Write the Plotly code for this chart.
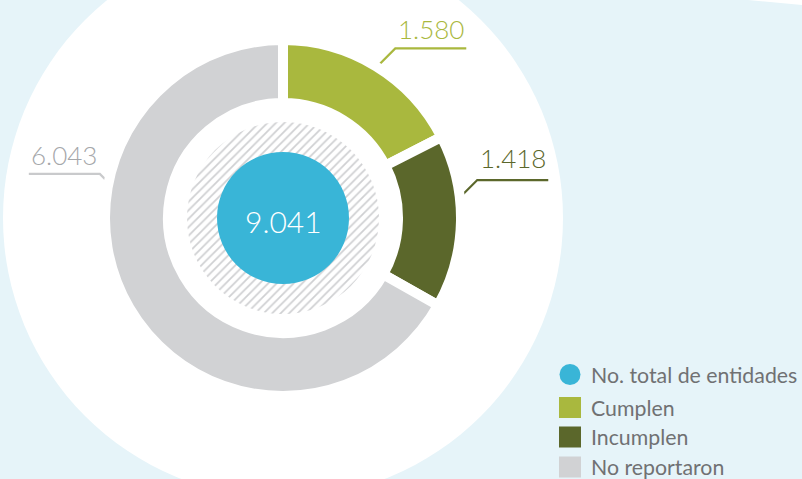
import math
import plotly.graph_objects as go

# ---------------- data ----------------
categories = ["Cumplen", "Incumplen", "No reportaron"]
values = [1580, 1418, 6043]
value_labels = ["1.580", "1.418", "6.043"]
total_label = "No. total de entidades"
total_text = "9.041"

# ---------------- style ----------------
colors = ["#a9b83e", "#5b672b", "#d1d2d4"]
label_colors = ["#a9b83e", "#5b672b", "#a5a7aa"]
leader_colors = ["#a9b83e", "#5b672b", "#c9cacc"]
leader_frac = [0.5, 0.386, 0.669]      # where on each slice the leader starts
leader_diag = [22, 22, 13]             # diagonal length of leader
leader_side = [1, 1, -1]               # +1 right, -1 left
leader_len = 71
label_gap = [1, 4, 1]
blue = "#39b5d7"
bg = "#e6f4f9"
legend_text = "#707173"

W, H = 802, 479
CX, CY = 283, 218
R_OUT, R_IN = 173, 120
GAP = 10
R_HATCH = 96
R_CORE = 66
R_PAGE = 280
NUM_FONT = dict(family="Lato", weight=300)


def dom(r):
    return dict(x=[(CX - r) / W, (CX + r) / W],
                y=[1 - (CY + r) / H, 1 - (CY - r) / H])


fig = go.Figure()

# leader lines (drawn under the donut)
total = sum(values)
cum = 0
annotations = []
for i, v in enumerate(values):
    a0 = cum / total * 360
    a1 = (cum + v) / total * 360
    cum += v
    ang = math.radians(a0 + leader_frac[i] * (a1 - a0))
    px = CX + R_OUT * math.sin(ang)
    py = CY - R_OUT * math.cos(ang)
    s = leader_side[i]
    d = leader_diag[i]
    sx, sy = px - s * 6, py + 6
    ex, ey = px + s * d, py - d
    hx = ex + s * leader_len
    fig.add_trace(go.Scatter(x=[sx, ex, hx], y=[sy, ey, ey], mode="lines",
                             line=dict(color=leader_colors[i], width=2.2),
                             hoverinfo="skip", showlegend=False))
    annotations.append(dict(x=(ex + hx) / 2, y=ey - label_gap[i], xref="x", yref="y",
                            text=value_labels[i], showarrow=False,
                            xanchor="center", yanchor="bottom",
                            font=dict(size=26, color=label_colors[i], **NUM_FONT)))

# donut
R_PIE = R_OUT + GAP / 2
fig.add_trace(go.Pie(values=values, labels=categories, sort=False,
                     direction="clockwise", rotation=0,
                     hole=(R_IN - GAP / 2) / R_PIE,
                     marker=dict(colors=colors, line=dict(color="white", width=GAP)),
                     textinfo="none", hoverinfo="skip", showlegend=False,
                     domain=dom(R_PIE)))

# hatched disc
fig.add_trace(go.Pie(values=[1], labels=["hatch"], sort=False,
                     marker=dict(colors=["white"], line=dict(width=0),
                                 pattern=dict(shape="/", fgcolor="#cfd0d2",
                                              bgcolor="white", size=6, solidity=0.28)),
                     textinfo="none", hoverinfo="skip", showlegend=False,
                     domain=dom(R_HATCH)))

# blue core
fig.add_trace(go.Pie(values=[1], labels=[total_label], sort=False,
                     marker=dict(colors=[blue], line=dict(width=0)),
                     textinfo="none", hoverinfo="skip", showlegend=False,
                     domain=dom(R_CORE)))

annotations.append(dict(x=CX, y=CY + 3, xref="x", yref="y", text=total_text,
                        showarrow=False, xanchor="center", yanchor="middle",
                        font=dict(size=30, color="white", **NUM_FONT)))

shapes = [
    dict(type="circle", xref="x", yref="y", x0=CX - R_PAGE, x1=CX + R_PAGE,
         y0=CY - R_PAGE, y1=CY + R_PAGE, fillcolor="white", line=dict(width=0),
         layer="below"),
    dict(type="path", xref="x", yref="y", path="M 748 0 L 802 0 L 802 5 Z",
         fillcolor="white", line=dict(width=0), layer="below"),
]

# custom legend
LX = 570
rows_y = [374.5, 407.5, 437, 467]
legend_labels = [total_label] + categories
legend_colors = [blue] + colors
for j, (lab, col, ry) in enumerate(zip(legend_labels, legend_colors, rows_y)):
    if j == 0:
        shapes.append(dict(type="circle", xref="x", yref="y", x0=LX - 10.5, x1=LX + 10.5,
                           y0=ry - 10.5, y1=ry + 10.5, fillcolor=col, line=dict(width=0)))
    else:
        shapes.append(dict(type="rect", xref="x", yref="y", x0=LX - 11, x1=LX + 11,
                           y0=ry - 10.5, y1=ry + 10.5, fillcolor=col, line=dict(width=0)))
    annotations.append(dict(x=589, y=ry, xref="x", yref="y", text=lab, showarrow=False,
                            xanchor="left", yanchor="middle",
                            font=dict(family="Lato", size=21.3, color=legend_text)))

fig.update_layout(
    width=W, height=H, margin=dict(l=0, r=0, t=0, b=0),
    paper_bgcolor=bg, plot_bgcolor=bg,
    xaxis=dict(range=[0, W], visible=False, fixedrange=True),
    yaxis=dict(range=[H, 0], visible=False, fixedrange=True),
    shapes=shapes, annotations=annotations, showlegend=False,
)

fig.write_html("out.html", config={"displayModeBar": False},
               post_script="document.body.style.margin='0';document.body.style.overflow='hidden';")
